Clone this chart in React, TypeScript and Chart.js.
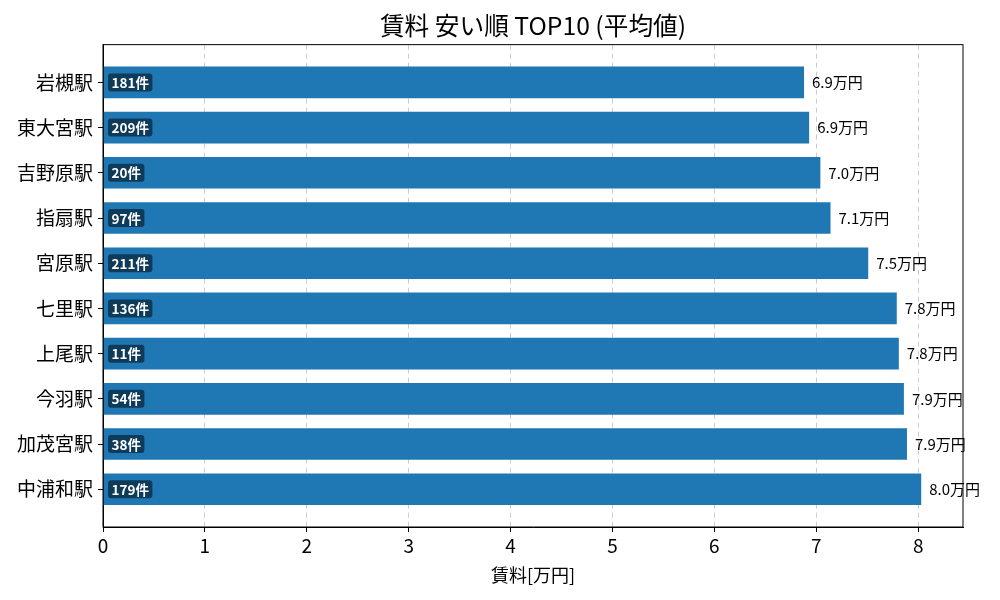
import { useEffect, useRef } from 'react'
import { Chart, registerables, ChartConfiguration, Plugin } from 'chart.js'

Chart.register(...registerables)

const FONT = '"Noto Sans CJK JP", "Noto Sans", sans-serif'

// 駅名 (上から順)
const stations = [
  '岩槻駅',
  '東大宮駅',
  '吉野原駅',
  '指扇駅',
  '宮原駅',
  '七里駅',
  '上尾駅',
  '今羽駅',
  '加茂宮駅',
  '中浦和駅',
]
// 平均賃料 [万円]
const rents = [6.88, 6.93, 7.04, 7.14, 7.51, 7.79, 7.81, 7.86, 7.89, 8.03]
// 件数
const counts = [181, 209, 20, 97, 211, 136, 11, 54, 38, 179]
const xTicks = [0, 1, 2, 3, 4, 5, 6, 7, 8]

const labelPlugin: Plugin<'bar'> = {
  id: 'barLabels',
  afterDatasetsDraw(chart) {
    const ctx = chart.ctx
    const meta = chart.getDatasetMeta(0)
    ctx.save()
    meta.data.forEach((bar: any, i) => {
      const { x, y, base } = bar.getProps(['x', 'y', 'base'], true)
      // value label at bar end
      ctx.font = `15px ${FONT}`
      ctx.fillStyle = '#000'
      ctx.textAlign = 'left'
      ctx.textBaseline = 'middle'
      ctx.fillText(`${rents[i].toFixed(1)}万円`, x + 8, y)
      // count badge at bar start
      const txt = `${counts[i]}件`
      ctx.font = `bold 13.5px ${FONT}`
      const w = ctx.measureText(txt).width
      const bx = base + 4.5
      const bh = 18
      ctx.fillStyle = 'rgba(0,0,0,0.5)'
      ctx.beginPath()
      ctx.roundRect(bx, y - bh / 2, w + 7, bh, 3)
      ctx.fill()
      ctx.fillStyle = '#fff'
      ctx.fillText(txt, bx + 3.5, y + 0.5)
    })
    ctx.restore()
  },
}

const framePlugin: Plugin<'bar'> = {
  id: 'frame',
  afterDraw(chart) {
    const { ctx, chartArea } = chart
    ctx.save()
    ctx.strokeStyle = '#000'
    ctx.lineWidth = 1
    ctx.strokeRect(chartArea.left, chartArea.top, chartArea.right - chartArea.left, chartArea.bottom - chartArea.top)
    ctx.restore()
  },
}

export default function App() {
  const canvasRef = useRef<HTMLCanvasElement>(null)
  const chartRef = useRef<Chart | null>(null)

  useEffect(() => {
    if (!canvasRef.current) return
    if (chartRef.current) chartRef.current.destroy()

    const config: ChartConfiguration<'bar'> = {
      type: 'bar',
      data: {
        datasets: [
          {
            data: rents.map((v, i) => ({ x: v, y: i })) as any,
            backgroundColor: '#1f77b4',
            barPercentage: 0.7,
            categoryPercentage: 1,
          },
        ],
      },
      plugins: [labelPlugin, framePlugin],
      options: {
        indexAxis: 'y',
        responsive: false,
        animation: false,
        layout: { padding: { left: 0, right: 37, top: 0, bottom: 0 } },
        plugins: {
          legend: { display: false },
          tooltip: { enabled: false },
          title: {
            display: true,
            text: '賃料 安い順 TOP10 (平均値)',
            fullSize: false,
            color: '#000',
            font: { family: FONT, size: 24.7, weight: 'normal' },
            padding: { top: 11, bottom: 4 },
          },
        },
        scales: {
          x: {
            type: 'linear',
            min: 0,
            max: 8.44,
            afterBuildTicks: (scale) => {
              scale.ticks = xTicks.map((v) => ({ value: v }))
            },
            afterFit: (scale) => {
              scale.height = 73
            },
            ticks: {
              color: '#000',
              font: { family: FONT, size: 19 },
              padding: 2,
            },
            grid: {
              color: '#cccccc',
              tickColor: '#000',
              tickLength: 5,
              tickBorderDash: [],
            },
            border: { display: true, color: '#000', dash: [5, 4] },
            title: {
              display: true,
              text: '賃料[万円]',
              color: '#000',
              font: { family: FONT, size: 18 },
              padding: { top: 0, bottom: 14 },
            },
          },
          y: {
            type: 'linear',
            reverse: true,
            offset: false,
            min: -0.835,
            max: 9.835,
            afterBuildTicks: (scale) => {
              scale.ticks = stations.map((_, i) => ({ value: i }))
            },
            afterFit: (scale) => {
              scale.width = 103
            },
            ticks: {
              color: '#000',
              font: { family: FONT, size: 19 },
              padding: 5,
              callback: (v) => stations[Number(v)] ?? '',
            },
            grid: {
              offset: false,
              drawOnChartArea: false,
              tickColor: '#000',
              tickLength: 5,
            },
            border: { display: true, color: '#000' },
          },
        },
      },
    }

    chartRef.current = new Chart(canvasRef.current, config)
    return () => {
      if (chartRef.current) {
        chartRef.current.destroy()
        chartRef.current = null
      }
    }
  }, [])

  return (
    <div style={{ position: 'fixed', left: 0, top: 0, width: 1000, height: 600, background: '#fff' }}>
      <canvas ref={canvasRef} width={1000} height={600} style={{ width: 1000, height: 600 }} />
    </div>
  )
}
